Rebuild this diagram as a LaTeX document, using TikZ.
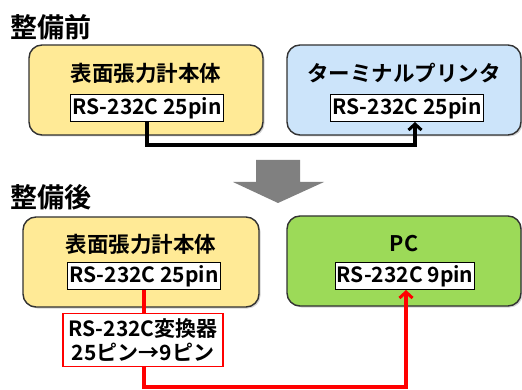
\documentclass[tikz,border=0pt]{standalone}
\usepackage{fontspec}
\setmainfont{Noto Sans CJK JP}[BoldFont={Noto Sans CJK JP Bold}]
\usetikzlibrary{arrows.meta,shadows}
\definecolor{boxyellow}{RGB}{255,234,150}
\definecolor{boxblue}{RGB}{204,228,250}
\definecolor{boxgreen}{RGB}{156,218,88}
\definecolor{edgegray}{RGB}{50,50,50}
\definecolor{linered}{RGB}{255,0,0}
\definecolor{arrowgray}{RGB}{128,128,128}
\tikzset{
  devbox/.style={draw=edgegray, line width=1.4pt, rounded corners=13pt, minimum width=#1, minimum height=90pt, inner sep=0pt,
    drop shadow={shadow xshift=1.5pt, shadow yshift=-1.5pt, opacity=0.35}},
  devtitle/.style={font=\bfseries\fontsize{21.5}{23}\selectfont, inner sep=0pt},
  portbox/.style={draw=black, line width=1pt, fill=white, font=\bfseries\fontsize{21}{23}\selectfont, inner sep=1.5pt, minimum height=27pt},
  heading/.style={font=\bfseries\fontsize{27}{29}\selectfont, inner sep=0pt, anchor=west},
  conv/.style={draw=linered, line width=1.5pt, fill=white, align=center, font=\bfseries\fontsize{21}{24}\selectfont, minimum width=160pt, minimum height=53pt, inner sep=1pt},
  blackcon/.style={draw=black, line width=3.2pt, -{Straight Barb[length=6pt,width=13pt,line width=3pt]}},
  redcon/.style={draw=linered, line width=3.2pt},
  redarrow/.style={redcon, -{Straight Barb[length=6pt,width=13pt,line width=3pt]}},
}
\begin{document}
\begin{tikzpicture}[x=1pt,y=-1pt]
\useasboundingbox (0,0) rectangle (522,390);
% headings
\node[heading] (h1) at (10,27) {整備前};
\node[heading] (h2) at (10,197) {整備後};
% before
\node[devbox=234pt, fill=boxyellow] (b1) at (146,90) {};
\node[devtitle] (t1) at (146,73) {表面張力計本体};
\node[portbox] (p1) at (147,108) {RS-232C 25pin};
\node[devbox=234pt, fill=boxblue] (b2) at (404,90) {};
\node[devtitle] (t2) at (404,73) {ターミナルプリンタ};
\node[portbox] (p2) at (407,108) {RS-232C 25pin};
\coordinate (c1) at (147,145);
\coordinate (c2) at (415,145);
\draw[blackcon] (p1.south -| c1) -- (c1) -- (c2) -- (p2.south -| c2);
% big arrow
\fill[arrowgray] (256,160) -- (300,160) -- (300,182) -- (324,182) -- (278,203) -- (233,182) -- (256,182) -- cycle;
% after
\node[devbox=236pt, fill=boxyellow] (b3) at (141,262) {};
\node[devtitle] (t3) at (141,244) {表面張力計本体};
\node[portbox] (p3) at (144,276) {RS-232C 25pin};
\node[devbox=234pt, fill=boxgreen] (b4) at (404,261) {};
\node[devtitle] (t4) at (404,244) {PC};
\node[portbox] (p4) at (405,276) {RS-232C 9pin};
\node[conv] (cv) at (143,340) {RS-232C変換器\\25ピン→9ピン};
\coordinate (c3) at (144,387);
\coordinate (c4) at (406,387);
\draw[redcon] (p3.south -| c3) -- (cv.north -| c3);
\draw[redarrow] (cv.south -| c3) -- (c3) -- (c4) -- (p4.south -| c4);
\end{tikzpicture}
\end{document}
